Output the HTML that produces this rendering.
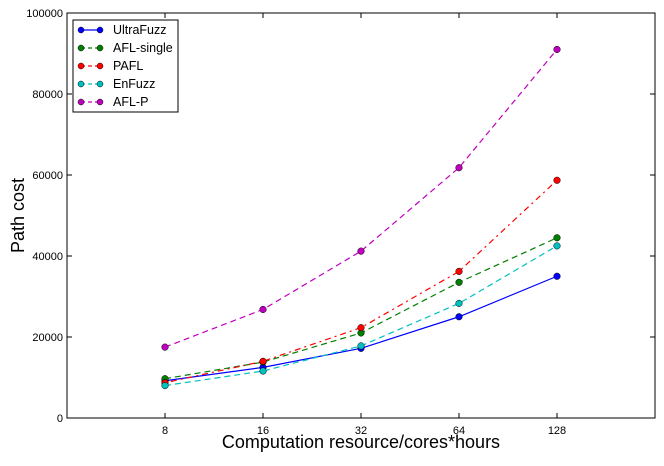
<!DOCTYPE html>
<html><head><meta charset="utf-8"><style>
body{margin:0;background:#fff;}
svg text{font-family:"Liberation Sans",Arial,sans-serif;}
</style></head><body>
<svg id="chart" width="664" height="461" xmlns="http://www.w3.org/2000/svg"></svg>
<script>
const categories=["8","16","32","64","128"];
const yTicks=[0,20000,40000,60000,80000,100000];
const seriesNames=["UltraFuzz","AFL-single","PAFL","EnFuzz","AFL-P"];
const ultraFuzz=[9200,12500,17200,25000,35000];
const aflSingle=[9700,13800,21000,33500,44500];
const pafl=[8700,14000,22300,36200,58700];
const enFuzz=[8000,11600,17800,28300,42500];
const aflP=[17500,26800,41200,61800,91000];
const seriesData=[ultraFuzz,aflSingle,pafl,enFuzz,aflP];
const colors=["#0000ff","#007f00","#ff0000","#00bfbf","#bf00bf"];
const dashes=["","6,4","2,4,6,4","6,4","6,4"];
const L=67,R=655,T=13,B=418;
const x=i=>L+(i+1)*(R-L)/6;
const y=v=>B-v/100000*(B-T);
const svg=document.getElementById('chart');
const NS="http://www.w3.org/2000/svg";
function mk(tag,attrs,parent){const e=document.createElementNS(NS,tag);for(const k in attrs)e.setAttribute(k,attrs[k]);(parent||svg).appendChild(e);return e;}
const frame=mk('rect',{x:L,y:T,width:R-L,height:B-T,fill:'none',stroke:'#000','stroke-width':1});


yTicks.forEach(v=>{
  const t=mk('line',{x1:L,x2:L+5,y1:y(v),y2:y(v),stroke:'#000'});
  
  
  mk('line',{x1:R,x2:R-5,y1:y(v),y2:y(v),stroke:'#000'});
  const tx=mk('text',{x:L-4,y:y(v)+4,'text-anchor':'end','font-size':11});
  tx.textContent=v;
  
  
});
categories.forEach((c,i)=>{
  mk('line',{x1:x(i),x2:x(i),y1:B,y2:B-5,stroke:'#000'});
  mk('line',{x1:x(i),x2:x(i),y1:T,y2:T+5,stroke:'#000'});
  const tx=mk('text',{x:x(i),y:B+16,'text-anchor':'middle','font-size':11});
  tx.textContent=c;
  
  
});
const xt=mk('text',{x:(L+R)/2,y:448,'text-anchor':'middle','font-size':18});
xt.textContent="Computation resource/cores*hours";


const yt=mk('text',{x:24,y:(T+B)/2,'text-anchor':'middle','font-size':18,transform:`rotate(-90 24 ${(T+B)/2})`});
yt.textContent="Path cost";


seriesData.forEach((d,s)=>{
  const g=mk('g',{});
  
  
  mk('polyline',{points:d.map((v,i)=>x(i)+','+y(v)).join(' '),fill:'none',stroke:colors[s],'stroke-width':1.2,'stroke-dasharray':dashes[s]},g);
  d.forEach((v,i)=>{
    const c=mk('circle',{cx:x(i),cy:y(v),r:3.3,fill:colors[s],stroke:'#000','stroke-width':0.5},g);
    
    
  });
});
const lg=mk('g',{});


mk('rect',{x:73,y:20,width:105,height:92,fill:'#fff',stroke:'#000','stroke-width':1},lg);
seriesNames.forEach((n,s)=>{
  const yy=30+s*18;
  const e=mk('g',{},lg);
  
  
  mk('line',{x1:81,x2:100,y1:yy,y2:yy,stroke:colors[s],'stroke-width':1.2,'stroke-dasharray':dashes[s]?'4,3':''},e);
  mk('circle',{cx:81,cy:yy,r:3,fill:colors[s],stroke:'#000','stroke-width':0.5},e);
  mk('circle',{cx:100,cy:yy,r:3,fill:colors[s],stroke:'#000','stroke-width':0.5},e);
  const t=mk('text',{x:113,y:yy+4,'font-size':12.5},e);
  t.textContent=n;
});
</script>
</body></html>
